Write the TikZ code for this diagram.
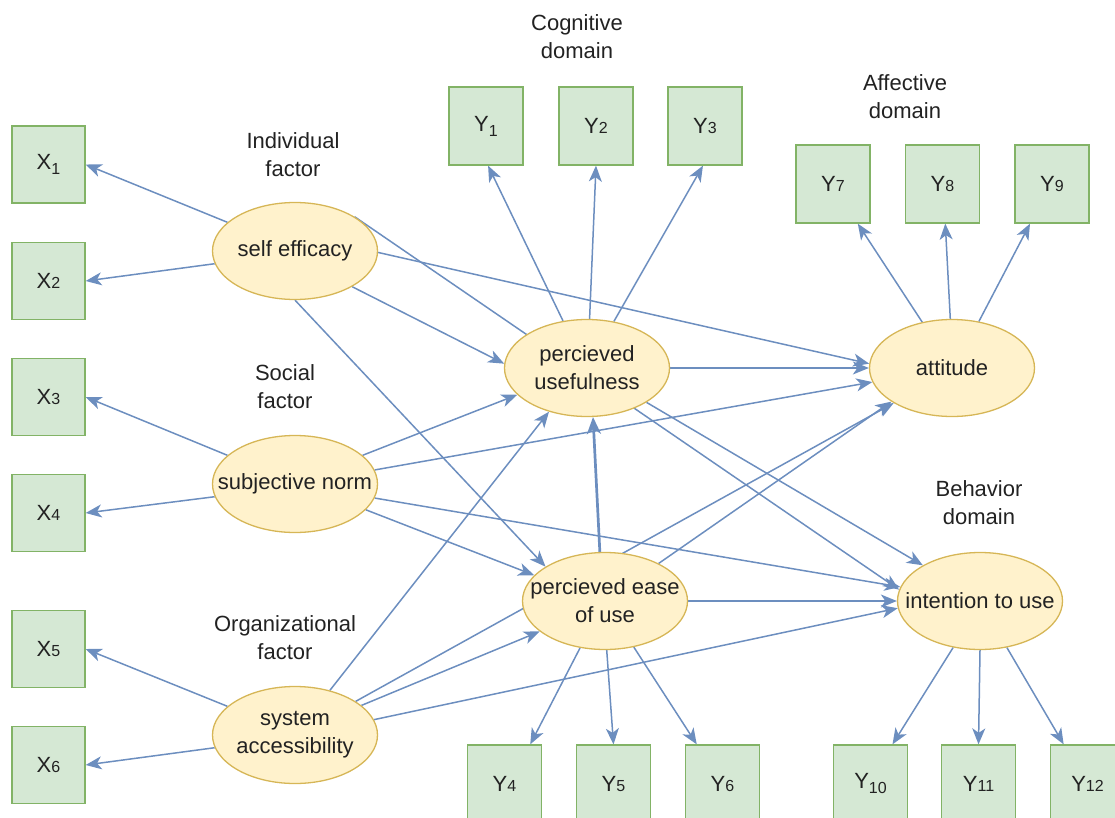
\documentclass[tikz,border=0pt]{standalone}
\usepackage{fontspec}
\setmainfont{Liberation Sans}
\usetikzlibrary{shapes.geometric,arrows.meta}
\definecolor{edgec}{HTML}{6C8EBF}
\definecolor{boxfill}{HTML}{D5E8D4}
\definecolor{boxline}{HTML}{82B366}
\definecolor{ellfill}{HTML}{FFF2CC}
\definecolor{ellline}{HTML}{D6B656}
\definecolor{txt}{HTML}{222222}
\pgfdeclarelayer{bg}
\pgfsetlayers{bg,main}
\newcommand{\smd}[1]{{\fontsize{16}{16}\selectfont #1}}
\newcommand{\lod}[1]{\raisebox{-5pt}{\fontsize{16}{16}\selectfont #1}}
\begin{document}
\begin{tikzpicture}[x=1pt,y=-1pt,
  every node/.style={text=txt, font=\fontsize{22}{28}\selectfont},
  obs/.style={draw=boxline, fill=boxfill, line width=1.3pt, minimum width=73pt, minimum height=77pt, inner sep=0pt},
  lat/.style={ellipse, draw=ellline, fill=ellfill, line width=1.3pt, minimum width=165pt, minimum height=97pt, inner sep=0pt},
  ctext/.style={align=center, inner sep=0pt},
  lbl/.style={align=center},
  link/.style={draw=edgec, line width=1.5pt, -{Stealth[length=16pt,width=13pt,inset=4.5pt]}},
  thick link/.style={draw=edgec, line width=2.7pt, -{Stealth[length=17pt,width=14pt,inset=5pt]}},
]
\useasboundingbox (0,0) rectangle (1115,818);

% observed variables
\node[obs] (X1) at (48.5,164.5) {X\lod{1}};
\node[obs] (X2) at (48.5,281) {X\smd{2}};
\node[obs] (X3) at (48.5,397) {X\smd{3}};
\node[obs] (X4) at (48.5,513) {X\smd{4}};
\node[obs] (X5) at (48.5,649) {X\smd{5}};
\node[obs] (X6) at (48.5,765) {X\smd{6}};

\node[obs, minimum height=78pt, minimum width=74pt] (Y1) at (486,126) {Y\lod{1}};
\node[obs, minimum height=78pt, minimum width=74pt] (Y2) at (596,126) {Y\smd{2}};
\node[obs, minimum height=78pt, minimum width=74pt] (Y3) at (705,126) {Y\smd{3}};
\node[obs, minimum height=78pt, minimum width=74pt] (Y7) at (833,184) {Y\smd{7}};
\node[obs, minimum height=78pt, minimum width=74pt] (Y8) at (942.5,184) {Y\smd{8}};
\node[obs, minimum height=78pt, minimum width=74pt] (Y9) at (1052,184) {Y\smd{9}};

\node[obs, minimum height=78pt, minimum width=74pt] (Y4) at (504.5,784) {Y\smd{4}};
\node[obs, minimum height=78pt, minimum width=74pt] (Y5) at (613.5,784) {Y\smd{5}};
\node[obs, minimum height=78pt, minimum width=74pt] (Y6) at (722.5,784) {Y\smd{6}};
\node[obs, minimum height=78pt, minimum width=74pt] (Y10) at (870.5,784) {Y\lod{10}};
\node[obs, minimum height=78pt, minimum width=74pt] (Y11) at (978.5,784) {Y\smd{11}};
\node[obs, minimum height=78pt, minimum width=74pt] (Y12) at (1087.5,784) {Y\smd{12}};

% latent variables
\node[lat, label={[ctext]center:self efficacy}] (SE) at (295,251) {};
\node[lat, label={[ctext]center:subjective norm}] (SN) at (295,484) {};
\node[lat, label={[ctext]center:{system\\accessibility}}] (SA) at (295,735) {};
\node[lat, label={[ctext]center:{percieved\\usefulness}}] (PU) at (587,368) {};
\node[lat, label={[ctext]center:attitude}] (AT) at (952,368) {};
\node[lat, label={[ctext]center:{percieved ease\\of use}}] (PEU) at (605,601) {};
\node[lat, label={[ctext]center:intention to use}] (ITU) at (980,601) {};

% group labels
\node[lbl] (lind) at (293,155) {Individual\\factor};
\node[lbl] (lsoc) at (285,387) {Social\\factor};
\node[lbl] (lorg) at (285,638) {Organizational\\factor};
\node[lbl] (lcog) at (577,37) {Cognitive\\domain};
\node[lbl] (laff) at (905,97) {Affective\\domain};
\node[lbl] (lbeh) at (979,503) {Behavior\\domain};

\begin{pgfonlayer}{bg}
\draw[link] (SE.157) -- (X1.east);
\draw[link] (SE.189) -- (X2.east);
\draw[link] (SN.157) -- (X3.east);
\draw[link] (SN.189) -- (X4.east);
\draw[link] (SA.157) -- (X5.east);
\draw[link] (SA.189) -- (X6.east);

\draw[link] (SE.-32) -- (PU.177);
\draw[link] (SE.-90) -- (PEU.150);
\draw[link] (SE.-1) -- (AT.177);
\draw[link] (SE.30) -- (ITU.172);

\draw[link] (SN.23) -- (PU.201);
\draw[link] (SN.10) -- (AT.190);
\draw[link] (SN.-10) -- (ITU.170);
\draw[link] (SN.-20) -- (PEU.160);

\draw[link] (SA.52) -- (PU.229);
\draw[link] (SA.24) -- (PEU.205);
\draw[link] (SA.29) -- (AT.211);
\draw[link] (SA.11) -- (ITU.185);

\draw[link] (PU.117) -- (Y1.-87);
\draw[link] (PU.87) -- (Y2.south);
\draw[link] (PU.60) -- (Y3.-93);
\draw[link] (PU.east) -- (AT.west);
\draw[link] (PU.-30) -- (ITU.148);

\draw[link] (AT.123) -- (Y7.-58);
\draw[link] (AT.92) -- (Y8.-86);
\draw[link] (AT.60) -- (Y9.-119);

\draw[thick link] (PEU.96) -- (PU.-83);
\draw[link] (PEU.35) -- (AT.209);
\draw[link] (PEU.east) -- (ITU.west);
\draw[link] (PEU.242) -- (Y4.57);
\draw[link] (PEU.272) -- (Y5.north);
\draw[link] (PEU.-58) -- (Y6.123);

\draw[link] (ITU.240) -- (Y10.61);
\draw[link] (ITU.-90) -- (Y11.north);
\draw[link] (ITU.-60) -- (Y12.121);
\end{pgfonlayer}
\end{tikzpicture}
\end{document}
